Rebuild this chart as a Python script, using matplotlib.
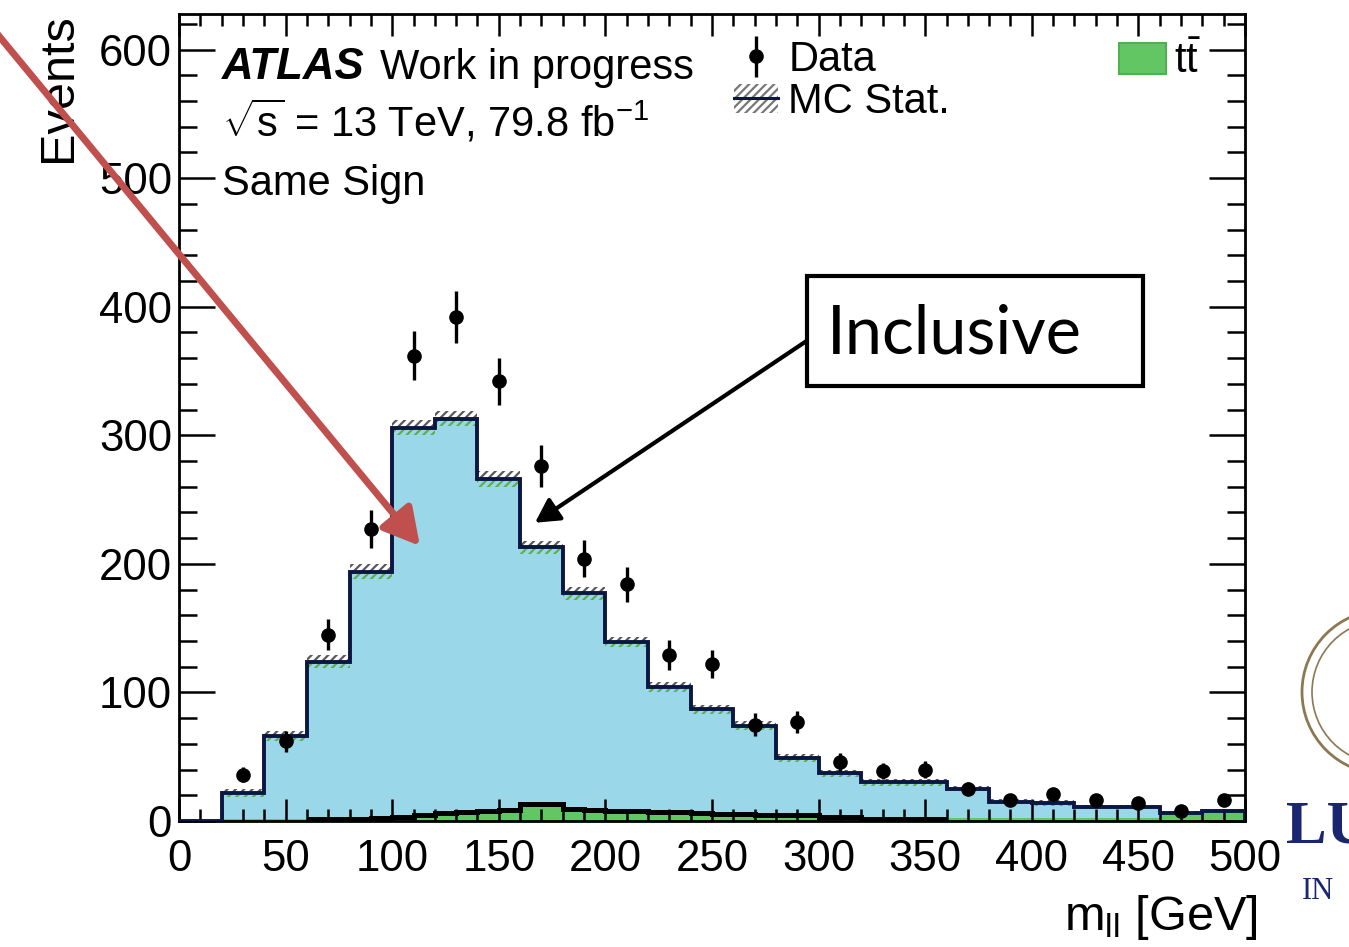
import numpy as np
import matplotlib
matplotlib.use("Agg")
import matplotlib.pyplot as plt
from matplotlib.patches import Patch, Rectangle, Circle
from matplotlib.lines import Line2D
from matplotlib.ticker import MultipleLocator

plt.rcParams["font.family"] = "Liberation Sans"
plt.rcParams["mathtext.fontset"] = "custom"
plt.rcParams["mathtext.rm"] = "Liberation Sans"
plt.rcParams["mathtext.it"] = "Liberation Sans:italic"
plt.rcParams["mathtext.bf"] = "Liberation Sans:bold"
plt.rcParams["hatch.linewidth"] = 1.6

# ── histogram contents (same-sign dilepton mass, 20 GeV bins) ──────────────
mll_edges = np.arange(0, 520, 20)
mc_total = [0, 22, 66, 124, 194, 306, 313, 266, 213, 177, 139, 104, 87,
            74, 49, 37, 30, 30, 25, 15, 14, 11, 11, 6, 8]
mc_stat = [0, 3, 4, 5, 6, 6, 6, 6, 5, 5, 4, 4, 3.5,
           3.5, 3, 2.5, 2.5, 2.5, 2, 2, 2, 1.5, 1.5, 1.5, 1.5]

# data points at bin centres (first bin is empty)
data_x = [30, 50, 70, 90, 110, 130, 150, 170, 190, 210, 230, 250,
          270, 290, 310, 330, 350, 370, 390, 410, 430, 450, 470, 490]
data_y = [36, 62, 145, 227, 362, 392, 342, 276, 204, 184, 129, 122,
          75, 77, 46, 39, 40, 25, 16, 21, 16, 14, 8, 16]
data_err = [6, 8, 12, 15, 19, 20, 18.5, 16.6, 14.3, 13.6, 11.4, 11,
            8.7, 8.8, 6.8, 6.2, 6.3, 5, 4, 4.6, 4, 3.7, 2.8, 4]

# ttbar component, finer 10 GeV binning
ttbar_edges = np.arange(0, 510, 10)
ttbar = [0, 0, 1.5, 1.5, 1.5, 1.5, 1.5, 1.5, 1.5, 2.5,
         3.5, 4.9, 6.2, 7, 7.5, 8.5, 13, 13, 9, 8.8,
         7.8, 7.8, 6.7, 6.7, 6.5, 5.4, 5.4, 4.6, 4.4, 4.4,
         3, 2.9, 1.8, 1.8, 1.8, 1.8, 2, 2, 2, 2,
         2, 2, 2, 2, 2, 2, 5, 5, 7, 7]

W, H = 1349, 947


def px(x, y):
    """pixel position (from top-left) -> figure fraction"""
    return x / W, 1 - y / H


fig = plt.figure(figsize=(W / 100, H / 100), dpi=100)
ax = fig.add_axes([179 / W, 1 - 821 / H, (1245 - 179) / W, (821 - 13.6) / H])

tot = np.array(mc_total, dtype=float)
err = np.array(mc_stat, dtype=float)

ax.stairs(tot, mll_edges, fill=True, color="#9AD7E8", lw=0, zorder=1)
ax.stairs(ttbar, ttbar_edges, fill=True, color="#62C662", lw=0, zorder=1.2)
ax.stairs(tot + err, mll_edges, baseline=tot, fill=True, facecolor="none",
          edgecolor="#5a5a5a", hatch="////", lw=0, zorder=1.4)
ax.stairs(tot, mll_edges, baseline=tot - err, fill=True, facecolor="none",
          edgecolor="#5cb04c", hatch="////", lw=0, zorder=1.4)
ax.stairs(tot, mll_edges, color="#0c1642", lw=2.8, zorder=3)
ax.stairs(ttbar[6:36], ttbar_edges[6:37], baseline=None, color="black",
          lw=3.6, zorder=3)

data = ax.errorbar(data_x, data_y, yerr=data_err, fmt="o", color="black",
                   ms=9.5, elinewidth=2.4, capsize=0, zorder=4)

ax.set_xlim(0, 500)
ax.set_ylim(0, 628)
ax.xaxis.set_major_locator(MultipleLocator(50))
ax.xaxis.set_minor_locator(MultipleLocator(10))
ax.yaxis.set_major_locator(MultipleLocator(100))
ax.yaxis.set_minor_locator(MultipleLocator(20))
ax.tick_params(which="both", direction="in", top=True, right=True,
               width=1.8, labelsize=31.5)
ax.tick_params(axis="y", which="major", length=26, pad=5)
ax.tick_params(axis="y", which="minor", length=13)
ax.tick_params(axis="x", which="major", length=16, pad=13)
ax.tick_params(axis="x", which="minor", length=8.5)
for sp in ax.spines.values():
    sp.set_linewidth(2)
ax.set_axisbelow(False)

ax.set_ylabel("Events", fontsize=35, loc="top")
ax.yaxis.set_label_coords(-0.092, 1.0)
ax.set_xlabel(r"m$_{\mathrm{ll}}$ [GeV]", fontsize=35, loc="right")
ax.xaxis.set_label_coords(1.012, -0.089)

# ATLAS label block
fig.text(*px(222, 79), "ATLAS", fontsize=31.5, fontweight="bold",
         style="italic", va="baseline")
fig.text(*px(380, 79), "Work in progress", fontsize=30, va="baseline")
fig.text(*px(222, 136), r"$\sqrt{\mathrm{s}}$ = 13 TeV, 79.8 fb$^{\mathrm{-1}}$",
         fontsize=30, va="baseline")
fig.text(*px(222, 195), "Same Sign", fontsize=30, va="baseline")

# legends
stat_hatch = Patch(facecolor="none", edgecolor="#777777", hatch="////", lw=0)
stat_line = Line2D([], [], color="#0c1642", lw=2.2)
leg1 = ax.legend([data, (stat_hatch, stat_line)], ["Data", "MC Stat."],
                 loc="upper left", bbox_to_anchor=px(734, 40),
                 bbox_transform=fig.transFigure, frameon=False, fontsize=30,
                 handlelength=1.05, handletextpad=0.25, labelspacing=0.05,
                 borderpad=0, borderaxespad=0)
ax.add_artist(leg1)
ax.legend([Patch(facecolor="#62C662", edgecolor="#4fb04f", lw=1.5)],
          [r"$\mathrm{t\bar{t}}$"], loc="upper left",
          bbox_to_anchor=px(1119, 42), bbox_transform=fig.transFigure,
          frameon=False, fontsize=30, handlelength=1.12, handleheight=0.75,
          handletextpad=0.2, borderpad=0, borderaxespad=0)

# slide annotations
ax.annotate("", xy=(113, 214), xycoords="data", xytext=px(-6, 30),
            textcoords="figure fraction", annotation_clip=False,
            arrowprops=dict(arrowstyle="-|>,head_length=0.4,head_width=0.22",
                            mutation_scale=55, color="#C0504D", lw=5,
                            shrinkA=0, shrinkB=0))
ax.annotate("", xy=(167, 232), xycoords="data", xytext=px(808, 340),
            textcoords="figure fraction", annotation_clip=False,
            arrowprops=dict(arrowstyle="-|>,head_length=0.4,head_width=0.22",
                            mutation_scale=36, color="black", lw=3,
                            shrinkA=0, shrinkB=0))
x0, y0 = px(807, 386)
x1, y1 = px(1143, 276)
fig.add_artist(Rectangle((x0, y0), x1 - x0, y1 - y0, transform=fig.transFigure,
                         facecolor="white", edgecolor="black", lw=3))
fig.text(*px(827, 353), "Inclusive", fontsize=48, family="Lato",
         va="baseline")

# university seal, cut by the slide edge
for r, lw in ((0.82, 2.0), (0.72, 1.2)):
    fig.add_artist(Circle((13.84, 2.55), r, transform=fig.dpi_scale_trans,
                          fill=False, edgecolor="#8d7752", lw=lw))
fig.text(*px(1286, 842), "LU", fontsize=44, family="Liberation Serif",
         fontweight="bold", color="#1b2670", va="baseline")
fig.text(*px(1302, 899), "IN", fontsize=22, family="Liberation Serif",
         color="#1b2670", va="baseline")

fig.savefig("out.png", dpi=100)
